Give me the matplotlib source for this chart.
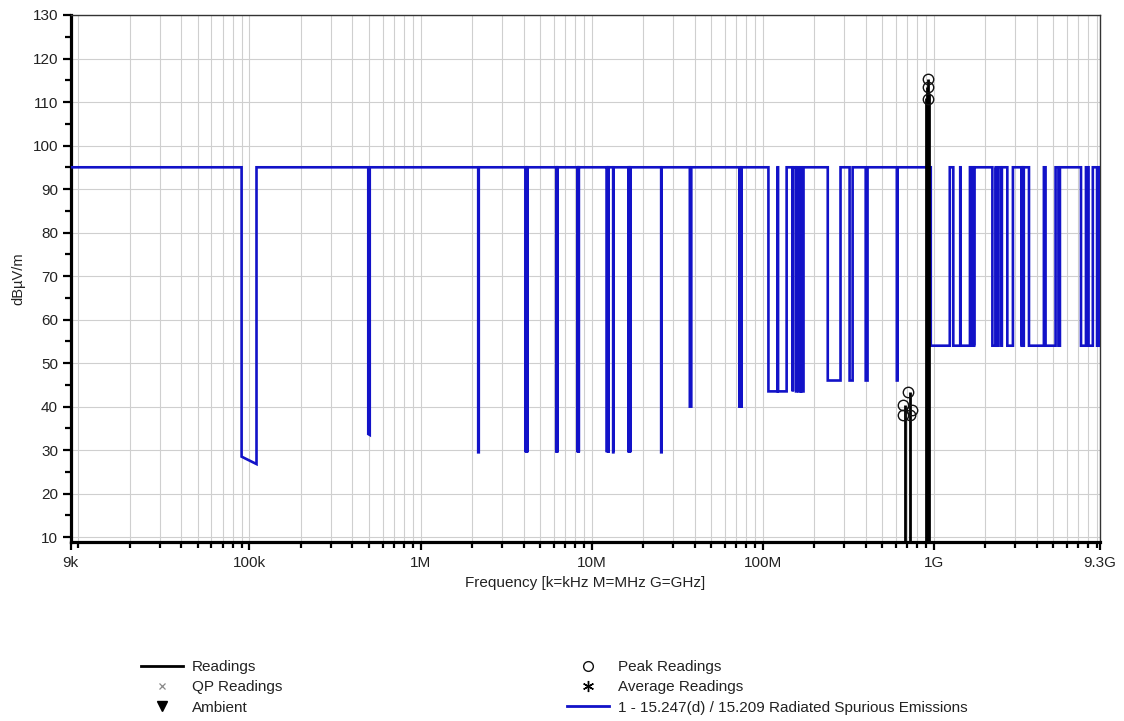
import matplotlib
matplotlib.use("Agg")
import matplotlib.pyplot as plt
from matplotlib.lines import Line2D
from matplotlib.ticker import FixedLocator, NullFormatter

# ---------------- data ----------------
# Limit line: restricted bands (MHz) and the level (dBuV/m) at band start / end
band_lo_mhz = [0.090, 0.495, 2.1735, 4.125, 4.17725, 4.20725, 6.215, 6.26775, 6.31175,
               8.291, 8.362, 8.37625, 8.41425, 12.29, 12.51975, 12.57675, 13.36,
               16.42, 16.69475, 16.80425, 25.5, 37.5, 73.0, 74.8,
               108.0, 123.0, 149.9, 156.52475, 156.7, 162.0125, 167.72,
               240.0, 322.0, 399.9, 608.0,
               960.0, 1300.0, 1435.0, 1645.5, 1660.0, 1718.8, 2200.0, 2310.0, 2483.5,
               2690.0, 3260.0, 3332.0, 3345.8, 3600.0, 4500.0, 5350.0, 7250.0, 8025.0,
               9000.0, 9300.0]
band_hi_mhz = [0.110, 0.505, 2.1905, 4.128, 4.17775, 4.20775, 6.218, 6.26825, 6.31225,
               8.294, 8.366, 8.38675, 8.41475, 12.293, 12.52025, 12.57725, 13.41,
               16.423, 16.69525, 16.80475, 25.67, 38.25, 74.6, 75.2,
               121.94, 138.0, 150.05, 156.52525, 156.9, 167.17, 173.2,
               285.0, 335.4, 410.0, 614.0,
               1240.0, 1427.0, 1626.5, 1646.5, 1710.0, 1722.2, 2300.0, 2390.0, 2500.0,
               2900.0, 3267.0, 3339.0, 3358.0, 4400.0, 5150.0, 5460.0, 7750.0, 8500.0,
               9200.0, 9500.0]
level_lo = [28.5, 33.7] + [29.5] * 19 + [40.0] * 3 + [43.5] * 7 + [46.0] * 4 + [54.0] * 20
level_hi = [26.8, 33.5] + [29.5] * 19 + [40.0] * 3 + [43.5] * 7 + [46.0] * 4 + [54.0] * 20
base_level = 95.0
start_mhz = 0.009
stop_mhz = 9300.0

# Readings (sticks) and peak readings (circles)
reading_mhz = [678.0, 725.0, 905.0, 915.0, 925.0, 935.0]
reading_db = [40.3, 43.4, 111.0, 113.5, 115.4, 112.0]
peak_mhz = [663.0, 663.0, 703.0, 728.0, 745.0, 921.0, 921.0, 921.0]
peak_db = [40.3, 38.0, 43.4, 38.0, 39.2, 110.8, 113.5, 115.4]

xtick_hz = [9e3, 1e5, 1e6, 1e7, 1e8, 1e9, 9.3e9]
xtick_labels = ["9k", "100k", "1M", "10M", "100M", "1G", "9.3G"]

# ---------------- figure ----------------
plt.rcParams["font.family"] = ["Liberation Sans", "DejaVu Sans"]
W, H = 1124, 721
fig = plt.figure(figsize=(W / 100, H / 100), dpi=100)
ax = fig.add_axes([70.5 / W, 1 - 541.5 / H, 1029 / W, 526.5 / H])

# build limit polyline
lx = [start_mhz * 1e6]
ly = [base_level]
for lo, hi, a, b in zip(band_lo_mhz, band_hi_mhz, level_lo, level_hi):
    lx += [lo * 1e6, lo * 1e6, hi * 1e6, hi * 1e6]
    ly += [base_level, a, b, base_level]
lx.append(stop_mhz * 1e6)
ly.append(base_level)

blue = "#1212c8"
ax.plot(lx, ly, color=blue, lw=1.9, zorder=3, solid_joinstyle="miter")

ymin, ymax = 9.0, 130.0
ax.vlines([f * 1e6 for f in reading_mhz], ymin - 5, reading_db, color="black", lw=2.0, zorder=4)
ax.plot([f * 1e6 for f in peak_mhz], peak_db, linestyle="none", marker="o", ms=7.5,
        mfc="none", mec="#111111", mew=1.0, zorder=5)

ax.set_xscale("log")
ax.set_xlim(start_mhz * 1e6, stop_mhz * 1e6)
ax.set_ylim(ymin, ymax)

# ticks
ax.xaxis.set_major_locator(FixedLocator(xtick_hz))
ax.set_xticklabels(xtick_labels)
minor = []
for dec in [1e3, 1e4, 1e5, 1e6, 1e7, 1e8, 1e9]:
    for m in range(1, 10):
        v = m * dec
        if 9e3 < v < 9.3e9 and v not in xtick_hz:
            minor.append(v)
ax.xaxis.set_minor_locator(FixedLocator(minor))
ax.xaxis.set_minor_formatter(NullFormatter())
ax.yaxis.set_major_locator(FixedLocator(list(range(10, 131, 10))))
ax.yaxis.set_minor_locator(FixedLocator(list(range(15, 130, 10))))

ax.grid(True, which="major", color="#cfcfcf", lw=0.8, zorder=0)
ax.grid(True, which="minor", axis="x", color="#cfcfcf", lw=0.8, zorder=0)
ax.set_axisbelow(True)

ax.tick_params(axis="both", which="major", direction="out", length=5.5, width=1.6,
               labelsize=11, colors="black", labelcolor="#222222")
ax.tick_params(axis="both", which="minor", direction="out", length=4.5, width=1.6, colors="black")
ax.tick_params(axis="x", which="major", pad=5)
ax.tick_params(axis="y", which="major", pad=3.5)

for s in ["left", "bottom"]:
    ax.spines[s].set_linewidth(2.3)
    ax.spines[s].set_color("black")
for s in ["top", "right"]:
    ax.spines[s].set_linewidth(1.0)
    ax.spines[s].set_color("#333333")

ax.set_xlabel("Frequency [k=kHz M=MHz G=GHz]", fontsize=11, color="#222222", labelpad=4)
ax.set_ylabel("dBµV/m", fontsize=10.5, color="#222222", labelpad=5)

# legends
h_left = [Line2D([], [], color="black", lw=2.0),
          Line2D([], [], color="#888888", marker="x", ls="none", ms=4.5, mew=0.9),
          Line2D([], [], color="black", marker="v", ls="none", ms=7)]
l_left = ["Readings", "QP Readings", "Ambient"]
h_right = [Line2D([], [], color="#111111", marker="o", mfc="none", ls="none", ms=7, mew=1.0),
           Line2D([], [], color="black", marker=(6, 2, 0), ls="none", ms=8, mew=1.0),
           Line2D([], [], color=blue, lw=2.0)]
l_right = ["Peak Readings", "Average Readings", "1 - 15.247(d) / 15.209 Radiated Spurious Emissions"]

common = dict(frameon=False, loc="upper left", borderpad=0, borderaxespad=0,
              handlelength=2.75, handletextpad=0.6, labelspacing=0.42, fontsize=11)
leg1 = fig.legend(h_left, l_left, bbox_to_anchor=(141 / W, 1 - 660 / H), **common)
leg2 = fig.legend(h_right, l_right, bbox_to_anchor=(567 / W, 1 - 660 / H), **common)
for lg in (leg1, leg2):
    for t in lg.get_texts():
        t.set_color("#222222")

fig.savefig("out.png", dpi=100)
